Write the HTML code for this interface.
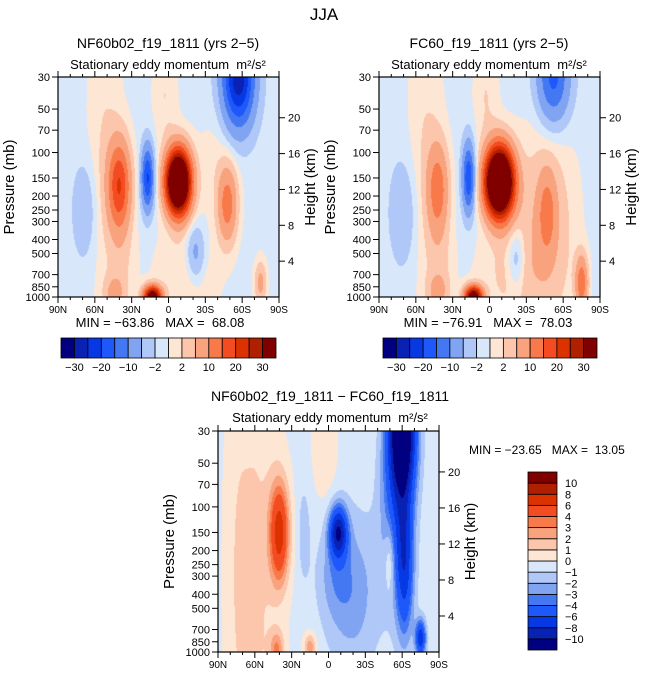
<!DOCTYPE html>
<html><head><meta charset="utf-8">
<style>
html,body{margin:0;padding:0;background:#fff;}
#root{position:relative;width:649px;height:676px;overflow:hidden;font-family:"Liberation Sans",sans-serif;}
canvas{position:absolute;}
svg{position:absolute;left:0;top:0;}
svg text{white-space:pre;}
</style></head>
<body>
<div id="root">
<canvas id="c1" width="221" height="220" style="left:58px;top:77px"></canvas>
<canvas id="c2" width="221" height="220" style="left:379px;top:77px"></canvas>
<canvas id="c3" width="221" height="221" style="left:218px;top:431px"></canvas>
<svg id="ov" width="649" height="676"></svg>
</div>
<script>
// ---- data ----
const latTicks = [90,60,30,0,-30,-60,-90];
const latTickLabels = ["90N","60N","30N","0","30S","60S","90S"];
const presTicks = [30,50,70,100,150,200,250,300,400,500,700,850,1000];
const heightTicks = [4,8,12,16,20];
const levelsMain = [-30,-25,-20,-15,-10,-5,-2,0,2,5,10,15,20,25,30];
const levelLabelsMain = ["-30","-20","-10","-2","2","10","20","30"];
const levelsDiff = [-10,-8,-6,-4,-3,-2,-1,0,1,2,3,4,6,8,10];
const levelColors = ["#000080","#0a22b4","#0638e4","#1e58fa","#4478f2","#80a4f2","#b0c8f8","#d8e8fa","#fde6d4","#fcc6ac","#f8a27e","#f87a4a","#f44c22","#dc3200","#b02000","#800000"];

// panel 1 features (lat, pressure mb, amplitude, lat spread, ln-p spread)
const p1Lat  = [-8, 40, 17, -57, -48, -22, 68, 13, 44, -75, 52, 3, -15, 38, -40];
const p1Pres = [160,170,150, 30, 230, 500, 250,1000,950,800, 100, 40, 700, 600, 120];
const p1Amp  = [60, 20, -20, -28, 13, -7, -4, 40, 6, 7, 2.8, 2.8, 3, 2.5, 1.8];
const p1SLat = [7, 6.5, 3.5, 9, 5.5, 5.4, 7, 5, 6, 3.5, 10, 7, 18, 8, 12];
const p1SZ   = [0.35,0.5,0.35,0.55,0.42,0.32,0.55,0.12,0.2,0.25,1.6,0.6,0.55,0.5,0.6];
const p1Base = -0.8;

const p2Lat  = [-8, 42, 17, -52, -47, -22, 70, 13, -75, 42, 52, 3, -15, -45, 40];
const p2Pres = [160,180,150, 30, 260, 550, 260,1000,800, 920, 100, 40, 700, 350, 600];
const p2Amp  = [65, 13, -19, -16, 9, -6, -4, 40, 14, 6, 2.8, 2.8, 3, 6, 2.5];
const p2SLat = [8, 6, 3.5, 9, 5, 5, 8, 5, 3.5, 6, 10, 7, 18, 16, 8];
const p2SZ   = [0.38,0.5,0.38,0.5,0.45,0.35,0.6,0.12,0.3,0.2,1.6,0.6,0.55,1.1,0.5];
const p2Base = -0.8;

const p3Lat  = [40, -8, -60, -62, -55, -20, 60, 42, 15, -75, -50, 3, 75, -5, 20];
const p3Pres = [150, 150, 30, 250, 100, 400, 300, 950, 920, 800, 230, 40, 300, 300, 150];
const p3Amp  = [7, -9, -14, -6, -3.5, -2.2, 1.5, 3, 3, -7, 2.2, 1.2, 0.6, -1.5, -1.2];
const p3SLat = [5.5, 5, 7.5, 5, 9, 15, 14, 4, 3.5, 3, 3, 7, 6, 10, 4];
const p3SZ   = [0.55, 0.28, 0.7, 0.8, 1.0, 0.9, 3, 0.2, 0.15, 0.2, 0.4, 0.6, 2, 0.5, 0.6];
const p3Base = -0.3;

// ---- rendering ----
const LP = Math.log(1000/30);
function field(lat, p, L, P, A, SL, SZ, base){
  let v = base; const z = Math.log(p);
  for(let k=0;k<L.length;k++){
    const dl=(lat-L[k])/SL[k], dz=(z-Math.log(P[k]))/SZ[k];
    v += A[k]*Math.exp(-0.5*(dl*dl+dz*dz));
  }
  return v;
}
function hex(c){return [parseInt(c.substr(1,2),16),parseInt(c.substr(3,2),16),parseInt(c.substr(5,2),16)];}
const rgb = levelColors.map(hex);
function drawPanel(id, L,P,A,SL,SZ,base, levels){
  const cv=document.getElementById(id), ctx=cv.getContext('2d');
  const W=cv.width,H=cv.height, img=ctx.createImageData(W,H);
  for(let j=0;j<H;j++){
    const p=30*Math.exp((j+0.5)/H*LP);
    for(let i=0;i<W;i++){
      const lat=90-(i+0.5)/W*180;
      const v=field(lat,p,L,P,A,SL,SZ,base);
      let idx=0; while(idx<levels.length && v>=levels[idx]) idx++;
      const c=rgb[idx], o=(j*W+i)*4;
      img.data[o]=c[0];img.data[o+1]=c[1];img.data[o+2]=c[2];img.data[o+3]=255;
    }
  }
  ctx.putImageData(img,0,0);
}
drawPanel('c1',p1Lat,p1Pres,p1Amp,p1SLat,p1SZ,p1Base,levelsMain);
drawPanel('c2',p2Lat,p2Pres,p2Amp,p2SLat,p2SZ,p2Base,levelsMain);
drawPanel('c3',p3Lat,p3Pres,p3Amp,p3SLat,p3SZ,p3Base,levelsDiff);

// ---- overlay ----
const NS="http://www.w3.org/2000/svg", ov=document.getElementById('ov');
function mk(tag, attrs, txt){
  const e=document.createElementNS(NS,tag);
  for(const k in attrs) e.setAttribute(k,attrs[k]);
  if(txt!==undefined) e.textContent=txt;
  ov.appendChild(e); return e;
}
function txt(x,y,s,size,anchor,name,rot){
  const a={x:x,y:y,'font-size':size,'text-anchor':anchor||'middle',fill:'#000','font-family':'Liberation Sans, sans-serif'};
  if(rot) a.transform='rotate(-90 '+x+' '+y+')';
  const e=mk('text',a,s);
  
  
  return e;
}
function line(x1,y1,x2,y2,w,name){
  const e=mk('line',{x1:x1,y1:y1,x2:x2,y2:y2,stroke:'#000','stroke-width':w||1});
  
  
  return e;
}
function axes(x0,y0,W,H,pfx){
  const fr=mk('rect',{x:x0,y:y0,width:W,height:H,fill:'none',stroke:'#000','stroke-width':1.2});
  
  
  const yp=p=>y0+H*Math.log(p/30)/LP;
  const xl=l=>x0+(90-l)/180*W;
  presTicks.forEach(p=>{
    const y=yp(p);
    line(x0-6,y,x0,y,1,pfx+'-pressure-tick');
    txt(x0-8,y+4,String(p),11,'end',pfx+'-pressure-tick-label');
  });
  heightTicks.forEach(h=>{
    const p=1000*Math.exp(-h/7);
    const y=yp(p);
    line(x0+W,y,x0+W+6,y,1,pfx+'-height-tick');
    txt(x0+W+9,y+4,String(h),11,'start',pfx+'-height-tick-label');
  });
  latTicks.forEach((l,i)=>{
    const x=xl(l);
    line(x,y0+H,x,y0+H+6,1,pfx+'-lat-tick');
    line(x,y0,x,y0-6,1,pfx+'-lat-tick-top');
    txt(x,y0+H+16,latTickLabels[i],10,'middle',pfx+'-lat-tick-label');
  });
  for(let l=80;l>-90;l-=10){ if(l%30===0) continue;
    const x=xl(l);
    line(x,y0+H,x,y0+H+3,1,pfx+'-lat-minor-tick');
    line(x,y0,x,y0-3,1,pfx+'-lat-minor-tick-top');
  }
  txt(x0-44,y0+H/2,'Pressure (mb)',15,'middle',pfx+'-y-axis-title',true);
  txt(x0+W+36,y0+H/2,'Height (km)',15,'middle',pfx+'-right-axis-title',true);
}
function hbar(x0,y0,W,H,levels,labels,pfx){
  const n=levelColors.length, bw=W/n;
  levelColors.forEach((c,i)=>{
    const r=mk('rect',{x:x0+i*bw,y:y0,width:bw,height:H,fill:c,stroke:'#000','stroke-width':0.8});
    
    
  });
  labels.forEach((s,k)=>{
    txt(x0+(2*k+1)*bw,y0+H+13,s.replace('-','\u2212'),11,'middle',pfx+'-colorbar-label');
  });
}
txt(324,20,'JJA',17,'middle','figure-title');
// panel 1
txt(168,48,'NF60b02_f19_1811 (yrs 2\u22125)',14,'middle','panel1-title');
txt(168,69,'Stationary eddy momentum  m\u00b2/s\u00b2',13,'middle','panel1-subtitle');
axes(58,77,221,220,'panel1');
txt(160,327,'MIN = \u221263.86   MAX =  68.08',13,'middle','panel1-min-max');
hbar(61,338,215,20,levelsMain,levelLabelsMain,'panel1');
// panel 2
txt(489,48,'FC60_f19_1811 (yrs 2\u22125)',14,'middle','panel2-title');
txt(489,69,'Stationary eddy momentum  m\u00b2/s\u00b2',13,'middle','panel2-subtitle');
axes(379,77,221,220,'panel2');
txt(488,327,'MIN = \u221276.91   MAX =  78.03',13,'middle','panel2-min-max');
hbar(383,338,214,20,levelsMain,levelLabelsMain,'panel2');
// panel 3
txt(330,401,'NF60b02_f19_1811 \u2212 FC60_f19_1811',14,'middle','panel3-title');
txt(330,422,'Stationary eddy momentum  m\u00b2/s\u00b2',13,'middle','panel3-subtitle');
axes(218,431,221,221,'panel3');
txt(469,454,'MIN = \u221223.65   MAX =  13.05',12,'start','panel3-min-max');
(function(){
  const x0=528,y0=472,W=29,H=178,n=levelColors.length,bh=H/n;
  for(let i=0;i<n;i++){
    const r=mk('rect',{x:x0,y:y0+H-(i+1)*bh,width:W,height:bh,fill:levelColors[i],stroke:'#000','stroke-width':0.8});
    
    
  }
  levelsDiff.forEach((v,k)=>{
    const y=y0+H-(k+1)*bh;
    txt(565,y+4,String(v).replace('-','\u2212'),11,'start','panel3-colorbar-label');
  });
})();
</script>
</body></html>
